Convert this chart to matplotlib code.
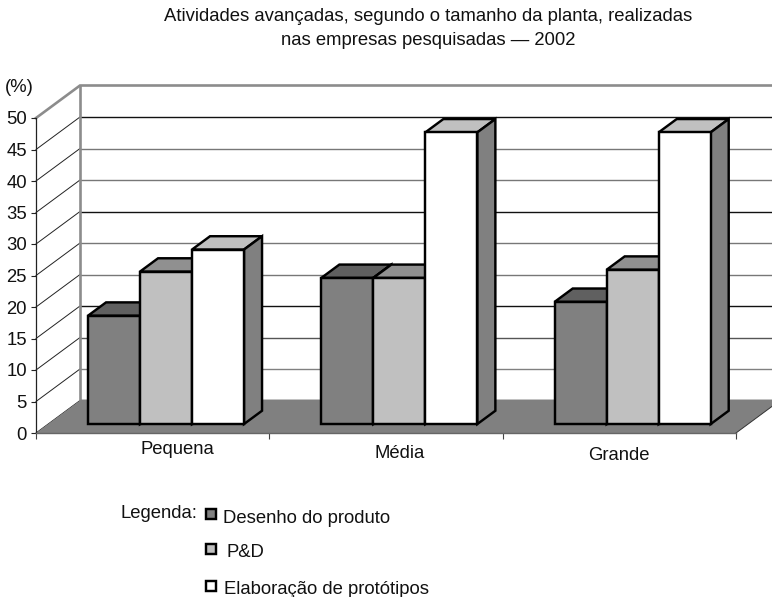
import numpy as np
import matplotlib
matplotlib.use('Agg')
import matplotlib.pyplot as plt
from matplotlib.patches import Polygon, Rectangle

plt.rcParams['font.family'] = ['Liberation Sans', 'DejaVu Sans']

categories = ['Pequena', 'Média', 'Grande']
series_names = ['Desenho do produto', 'P&D', 'Elaboração de protótipos']
desenho = [17.2, 23.2, 19.4]
ped = [24.2, 23.2, 24.5]
prototipos = [27.7, 46.3, 46.3]
y_ticks = list(range(0, 55, 5))

W, H = 772, 597
FS = 13.3
fig = plt.figure(figsize=(W / 100, H / 100), dpi=100)
# axes box is the front plane of the chart, everything else is sheared off it
ax = fig.add_axes([36 / W, 1 - 433 / H, 700 / W, 315 / H])
ax.set_xlim(0, 3)
ax.set_ylim(0, 50)

# one unit of depth = full width of the floor
DX = 44 / (700 / 3)
DY = 32.5 / 6.3


def sheared(x, v, d):
    return (x + d * DX, v + d * DY)


def poly(points, **kw):
    ax.add_patch(Polygon(points, closed=True, clip_on=False, **kw))


# back wall edges and floor
poly([sheared(0, 0, 0), sheared(3, 0, 0), sheared(3, 0, 1.03), sheared(0, 0, 1.03)],
     facecolor='#808080', edgecolor='none', zorder=2)

grid_shades = ['#808080', '#555555', '#111111', '#777777', '#777777',
               '#111111', '#777777', '#777777', '#111111']
for v, shade in zip(y_ticks[1:-1], grid_shades):
    xs, ys = zip(sheared(0, v, 1), sheared(3, v, 1))
    ax.plot(xs, ys, color=shade, lw=1.0, clip_on=False, zorder=1)
for v in y_ticks[:-1]:
    xs, ys = zip(sheared(0, v, 0), sheared(0, v, 1))
    ax.plot(xs, ys, color='#222222', lw=0.7, clip_on=False, zorder=1)

wall = [sheared(0, 50, 0), sheared(0, 50, 1), sheared(3, 50, 1)]
ax.plot(*zip(*wall), color='#8c8c8c', lw=1.9, clip_on=False, zorder=1,
        solid_joinstyle='miter')
ax.plot(*zip(sheared(0, 0, 1), sheared(0, 50, 1)), color='#8c8c8c', lw=1.9,
        clip_on=False, zorder=1)
ax.plot(*zip(sheared(3, 0, 0), sheared(3, 0, 1)), color='#333333', lw=0.7,
        clip_on=False, zorder=3)

# bars
front_d = 0.275
depth = 0.41
bar_w = 52 / (700 / 3)
first_bar = (88 - 36 - front_d * 44) / (700 / 3)
cat_step = 1.0
series = [desenho, ped, prototipos]
front_cols = ['#808080', '#c0c0c0', '#ffffff']
top_cols = ['#606060', '#909090', '#c0c0c0']
side_cols = ['#4c4c4c', '#808080', '#808080']
edge_w = 1.75
z = 4
for c in range(len(categories)):
    for s, vals in enumerate(series):
        x0 = c * cat_step + first_bar + s * bar_w
        x1 = x0 + bar_w
        v = vals[c]
        style = dict(edgecolor='black', linewidth=edge_w, joinstyle='miter')
        # top face
        poly([sheared(x0, v, front_d), sheared(x1, v, front_d),
              sheared(x1, v, front_d + depth), sheared(x0, v, front_d + depth)],
             facecolor=top_cols[s], zorder=z, **style)
        # side face
        poly([sheared(x1, 0, front_d), sheared(x1, 0, front_d + depth),
              sheared(x1, v, front_d + depth), sheared(x1, v, front_d)],
             facecolor=side_cols[s], zorder=z, **style)
        fx, fb = sheared(x0, 0, front_d)
        ax.bar(fx, v, bar_w, bottom=fb, align='edge', color=front_cols[s],
               edgecolor='black', linewidth=edge_w, clip_on=False, zorder=z + 0.5)
        z += 1

# axes
for side in ['top', 'right']:
    ax.spines[side].set_visible(False)
ax.patch.set_visible(False)
ax.spines['left'].set_color('#222222')
ax.spines['left'].set_linewidth(0.9)
ax.spines['bottom'].set_color('#666666')
ax.spines['bottom'].set_linewidth(1.0)
ax.spines['bottom'].set_zorder(30)
ax.set_yticks(y_ticks)
ax.set_xticks(range(4))
ax.set_xticklabels([])
ax.tick_params(axis='y', length=3.5, width=0.8, pad=3, labelsize=FS, color='#222222')
ax.tick_params(axis='x', length=4.5, width=0.8, color='#444444')
for lab in ax.get_yticklabels():
    lab.set_color('#111111')


def px_text(x, y, s, **kw):
    fig.text(x / W, 1 - y / H, s, color='#111111', fontsize=FS, **kw)


label_x = [177.5, 400, 619]
label_y = [450, 453, 455]
for name, lx, ly in zip(categories, label_x, label_y):
    px_text(lx, ly, name, ha='center', va='center')

px_text(5, 88, '(%)', ha='left', va='center')
px_text(428, 21, 'Atividades avançadas, segundo o tamanho da planta, realizadas',
        ha='center', va='baseline')
px_text(428, 45, 'nas empresas pesquisadas — 2002', ha='center', va='baseline')

# legend, drawn by hand because the rows are not evenly laid out
px_text(120.5, 518, 'Legenda:', ha='left', va='baseline')
box_y = [509, 544, 581]
text_x = [222.5, 226, 224]
text_y = [523, 557, 594]
for name, col, by, tx, ty in zip(series_names, front_cols, box_y, text_x, text_y):
    fig.add_artist(Rectangle((205.5 / W, 1 - (by + 10) / H), 10 / W, 10 / H,
                             transform=fig.transFigure, facecolor=col,
                             edgecolor='black', linewidth=1.75))
    px_text(tx, ty, name, ha='left', va='baseline')

fig.savefig('out.png', dpi=100)
